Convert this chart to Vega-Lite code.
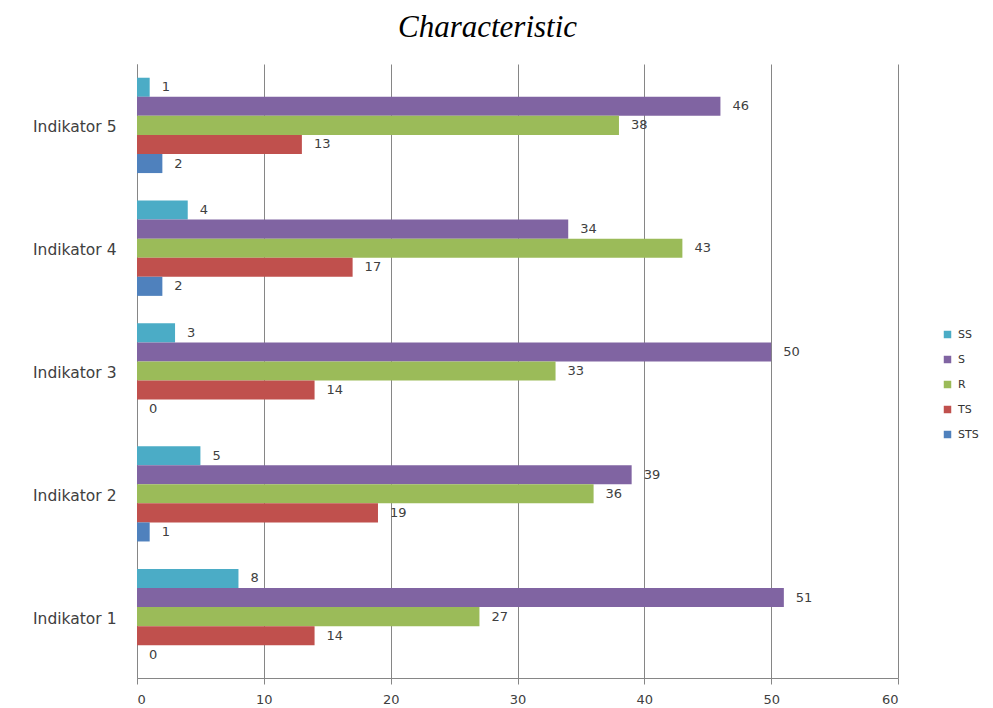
{
  "$schema": "https://vega.github.io/schema/vega-lite/v6.json",
  "width": 761,
  "height": 614,
  "autosize": {"type": "none"},
  "padding": {"left": 137, "top": 64, "right": 95, "bottom": 30},
  "background": "white",
  "title": {
    "text": "Characteristic",
    "font": "Liberation Serif",
    "fontStyle": "italic",
    "fontWeight": "normal",
    "fontSize": 31,
    "color": "#000000",
    "anchor": "middle",
    "dx": -30,
    "offset": 20
  },
  "data": {
    "values": [
      {"indikator": "Indikator 5", "kategori": "SS", "nilai": 1},
      {"indikator": "Indikator 5", "kategori": "S", "nilai": 46},
      {"indikator": "Indikator 5", "kategori": "R", "nilai": 38},
      {"indikator": "Indikator 5", "kategori": "TS", "nilai": 13},
      {"indikator": "Indikator 5", "kategori": "STS", "nilai": 2},
      {"indikator": "Indikator 4", "kategori": "SS", "nilai": 4},
      {"indikator": "Indikator 4", "kategori": "S", "nilai": 34},
      {"indikator": "Indikator 4", "kategori": "R", "nilai": 43},
      {"indikator": "Indikator 4", "kategori": "TS", "nilai": 17},
      {"indikator": "Indikator 4", "kategori": "STS", "nilai": 2},
      {"indikator": "Indikator 3", "kategori": "SS", "nilai": 3},
      {"indikator": "Indikator 3", "kategori": "S", "nilai": 50},
      {"indikator": "Indikator 3", "kategori": "R", "nilai": 33},
      {"indikator": "Indikator 3", "kategori": "TS", "nilai": 14},
      {"indikator": "Indikator 3", "kategori": "STS", "nilai": 0},
      {"indikator": "Indikator 2", "kategori": "SS", "nilai": 5},
      {"indikator": "Indikator 2", "kategori": "S", "nilai": 39},
      {"indikator": "Indikator 2", "kategori": "R", "nilai": 36},
      {"indikator": "Indikator 2", "kategori": "TS", "nilai": 19},
      {"indikator": "Indikator 2", "kategori": "STS", "nilai": 1},
      {"indikator": "Indikator 1", "kategori": "SS", "nilai": 8},
      {"indikator": "Indikator 1", "kategori": "S", "nilai": 51},
      {"indikator": "Indikator 1", "kategori": "R", "nilai": 27},
      {"indikator": "Indikator 1", "kategori": "TS", "nilai": 14},
      {"indikator": "Indikator 1", "kategori": "STS", "nilai": 0}
    ]
  },
  "encoding": {
    "y": {
      "field": "indikator",
      "type": "nominal",
      "sort": ["Indikator 5", "Indikator 4", "Indikator 3", "Indikator 2", "Indikator 1"],
      "scale": {"paddingInner": 0, "paddingOuter": 0},
      "axis": {
        "title": null,
        "grid": false,
        "ticks": false,
        "domainColor": "#868686",
        "labelFont": "DejaVu Sans",
        "labelFontSize": 15.5,
        "labelColor": "#404040",
        "labelPadding": 21,
        "labelBaseline": "middle",
        "labelOffset": 2
      }
    },
    "yOffset": {
      "field": "kategori",
      "type": "nominal",
      "sort": ["SS", "S", "R", "TS", "STS"],
      "scale": {"paddingInner": 0, "paddingOuter": 0.72}
    },
    "x": {
      "field": "nilai",
      "type": "quantitative",
      "scale": {"domain": [0, 60], "nice": false},
      "axis": {
        "title": null,
        "values": [0, 10, 20, 30, 40, 50, 60],
        "grid": true,
        "gridColor": "#868686",
        "gridOpacity": 1,
        "tickSize": 6,
        "tickColor": "#868686",
        "domainColor": "#868686",
        "labelFont": "DejaVu Sans",
        "labelFontSize": 13,
        "labelColor": "#404040",
        "labelPadding": 9
      }
    }
  },
  "layer": [
    {
      "mark": {"type": "bar", "strokeWidth": 0},
      "encoding": {
        "color": {
          "field": "kategori",
          "type": "nominal",
          "sort": ["SS", "S", "R", "TS", "STS"],
          "scale": {
            "domain": ["SS", "S", "R", "TS", "STS"],
            "range": ["#4bacc6", "#8064a2", "#9bbb59", "#c0504d", "#4f81bd"]
          },
          "legend": {
            "title": null,
            "orient": "none",
            "legendX": 805,
            "legendY": 265,
            "symbolType": "square",
            "symbolSize": 56,
            "symbolStrokeWidth": 0,
            "labelFont": "DejaVu Sans",
            "labelFontSize": 11,
            "labelColor": "#333333",
            "labelOffset": 5,
            "rowPadding": 13
          }
        }
      }
    },
    {
      "mark": {
        "type": "text",
        "align": "left",
        "baseline": "middle",
        "dx": 12,
        "font": "DejaVu Sans",
        "fontSize": 13,
        "color": "#404040"
      },
      "encoding": {
        "text": {"field": "nilai", "type": "quantitative"}
      }
    }
  ],
  "config": {
    "view": {"stroke": null}
  }
}
